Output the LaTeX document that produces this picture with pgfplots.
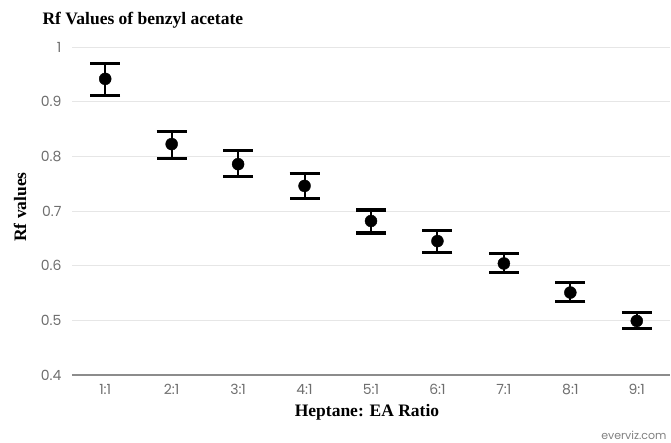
\documentclass[border=0pt]{standalone}
\usepackage{fontspec}
\setmainfont{Liberation Serif}
\newfontfamily\tickfont{Poppins}
\usepackage{pgfplots}
\pgfplotsset{compat=1.18}
\definecolor{tickgray}{HTML}{6E6E6E}
\definecolor{gridgray}{HTML}{E6E6E6}
\definecolor{axisgray}{HTML}{8C8C8C}
\begin{document}
\begin{tikzpicture}[x=1pt,y=1pt]
\begin{axis}[
  scale only axis, width=598pt, height=328pt,
  xmin=-0.5, xmax=8.5, ymin=0.4, ymax=1,
  axis lines*=left,
  x axis line style={draw=axisgray, line width=1.5pt},
  y axis line style={draw=none},
  xtick={0,...,8},
  xticklabels={1:1,2:1,3:1,4:1,5:1,6:1,7:1,8:1,9:1},
  ytick={0.4,0.5,0.6,0.7,0.8,0.9,1},
  yticklabels={0.4,0.5,0.6,0.7,0.8,0.9,1},
  major tick length=0pt,
  ymajorgrids, grid style={draw=gridgray, line width=0.8pt},
  ticklabel style={font=\tickfont\fontsize{14}{16}\selectfont, text=tickgray},
  /pgf/number format/assume math mode=true,
  xticklabel style={yshift=-6pt},
  yticklabel style={xshift=-7pt},
  clip=false,
]
\addplot[only marks, black, mark=*, mark size=6pt,
  error bars/.cd, y dir=both, y explicit,
  error bar style={line width=2pt, black},
  error mark options={line width=3.2pt, mark size=15pt, rotate=90}]
coordinates {
 (0,0.9417) += (0,0.0280) -= (0,0.0300)
 (1,0.8224) += (0,0.0233) -= (0,0.0257)
 (2,0.7857) += (0,0.0244) -= (0,0.0220)
 (3,0.7459) += (0,0.0220) -= (0,0.0226)
 (4,0.6817) += (0,0.0201) -= (0,0.0221)
 (5,0.6450) += (0,0.0190) -= (0,0.0208)
 (6,0.6040) += (0,0.0184) -= (0,0.0170)
 (7,0.5508) += (0,0.0178) -= (0,0.0159)
 (8,0.4989) += (0,0.0147) -= (0,0.0141)
};
\coordinate (SW) at (axis description cs:0,0);
\end{axis}
\pgfresetboundingbox
\begin{scope}[shift={(SW)}]
\useasboundingbox (-72,-68) rectangle (599,375);
\node[anchor=west, font=\bfseries\fontsize{17.5}{20}\selectfont] at (-33,355) {Rf Values of benzyl acetate};
\node[rotate=90, font=\bfseries\fontsize{17.5}{20}\selectfont] at (-52,168) {Rf values};
\node[font=\bfseries\fontsize{17.5}{20}\selectfont] at (295,-37) {Heptane: EA Ratio};
\node[anchor=east, font=\tickfont\fontsize{11}{13}\selectfont, text=gray] at (598,-60) {everviz.com};
\end{scope}
\end{tikzpicture}
\end{document}
